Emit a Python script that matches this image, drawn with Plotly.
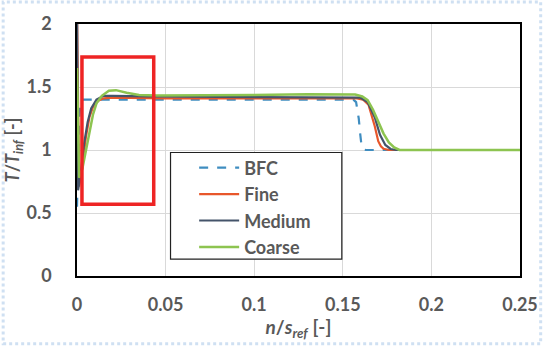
import plotly.graph_objects as go

# ---- data ----
bfc_x = [0, 0.0005, 0.0012, 0.002, 0.003, 0.05, 0.1, 0.15, 0.156, 0.1575, 0.159, 0.1598, 0.1606, 0.1615, 0.163, 0.25]
bfc_y = [0.55, 0.9, 1.25, 1.37, 1.40, 1.40, 1.40, 1.40, 1.40, 1.38, 1.25, 1.13, 1.03, 1.005, 1.0, 1.0]

fine_x = [0, 0.0012, 0.003, 0.005, 0.007, 0.009, 0.012, 0.015, 0.02, 0.05, 0.1, 0.15, 0.158, 0.1615, 0.1645, 0.168, 0.170, 0.1715, 0.173, 0.176, 0.25]
fine_y = [2.1, 0.71, 0.86, 1.1, 1.26, 1.34, 1.39, 1.41, 1.415, 1.41, 1.41, 1.41, 1.41, 1.40, 1.36, 1.19, 1.07, 1.03, 1.01, 1.0, 1.0]

med_x = [0, 0.0006, 0.002, 0.004, 0.006, 0.008, 0.011, 0.015, 0.02, 0.04, 0.1, 0.15, 0.16, 0.164, 0.168, 0.171, 0.174, 0.177, 0.18, 0.25]
med_y = [2.2, 0.68, 0.8, 1.05, 1.22, 1.33, 1.40, 1.43, 1.43, 1.425, 1.42, 1.42, 1.415, 1.38, 1.26, 1.12, 1.04, 1.008, 1.0, 1.0]

coarse_x = [0, 0.0012, 0.003, 0.005, 0.007, 0.009, 0.011, 0.014, 0.018, 0.022, 0.028, 0.035, 0.045, 0.07, 0.1, 0.13, 0.15, 0.157, 0.161, 0.164, 0.167, 0.170, 0.173, 0.176, 0.179, 0.182, 0.25]
coarse_y = [1.65, 0.78, 0.85, 1.0, 1.15, 1.28, 1.37, 1.43, 1.47, 1.475, 1.455, 1.437, 1.432, 1.432, 1.437, 1.443, 1.445, 1.44, 1.425, 1.395, 1.32, 1.22, 1.13, 1.06, 1.02, 1.0, 1.0]

x_ticks = [0, 0.05, 0.1, 0.15, 0.2, 0.25]
x_tick_labels = ["0", "0.05", "0.1", "0.15", "0.2", "0.25"]
y_ticks = [0, 0.5, 1, 1.5, 2]
y_tick_labels = ["0", "0.5", "1", "1.5", "2"]

# highlight box (data coordinates)
box_x = [0.0028, 0.0433]
box_y = [0.57, 1.738]

GRAY = "#595959"
FONT = "Lato"

fig = go.Figure()
series = [
    ("BFC", bfc_x, bfc_y, "#3f8dc0", 2.2, "dash"),
    ("Fine", fine_x, fine_y, "#e8572b", 2.2, "solid"),
    ("Medium", med_x, med_y, "#44546a", 2.2, "solid"),
    ("Coarse", coarse_x, coarse_y, "#8dc450", 2.5, "solid"),
]
for name, xs, ys, col, w, dash in series:
    fig.add_trace(go.Scatter(
        x=xs, y=ys, mode="lines", name=name, legendgroup=name,
        line=dict(color=col, width=w, dash=dash),
    ))

fig.add_shape(type="rect", xref="x", yref="y",
              x0=box_x[0], x1=box_x[1], y0=box_y[0], y1=box_y[1],
              line=dict(color="#ee2424", width=3.5), layer="above")

L, R, T, B = 77, 23, 24, 70
W, H = 550, 347
pw, ph = W - L - R, H - T - B

def px_x(p):
    return (p - L) / pw

def px_y(p):
    return (H - B - p) / ph

# legend frame (white box with dark border)
fig.add_shape(type="rect", xref="paper", yref="paper",
              x0=px_x(172), x1=px_x(346), y0=px_y(260), y1=px_y(153),
              line=dict(color="#222222", width=1.2), fillcolor="white", layer="above")

# outer decorative dashed frame
fig.add_shape(type="rect", xref="paper", yref="paper",
              x0=px_x(2), x1=px_x(W - 2), y0=px_y(H - 2), y1=px_y(2),
              line=dict(color="#cfe0f2", width=3, dash="dot"), layer="below")

axis_common = dict(
    showline=True, linecolor="black", linewidth=1.5, mirror=True,
    showgrid=True, gridcolor="#d9d9d9", gridwidth=1.2,
    zeroline=False, ticks="",
    tickfont=dict(family=FONT, size=18, color=GRAY, weight="bold"),
)

fig.update_layout(
    width=W, height=H,
    margin=dict(l=L, r=R, t=T, b=B),
    paper_bgcolor="white", plot_bgcolor="white",
    font=dict(family=FONT, color=GRAY),
    xaxis=dict(range=[0, 0.25], tickvals=x_ticks, ticktext=x_tick_labels,
               ticklabelstandoff=12,
               title=dict(text="<i>n</i>/<i>s</i><sub><i>ref</i></sub> [-]",
                          font=dict(family=FONT, size=19, color=GRAY, weight="bold"),
                          standoff=6),
               **axis_common),
    yaxis=dict(range=[0, 2], tickvals=y_ticks, ticktext=y_tick_labels,
               ticklabelstandoff=20,
               title=dict(text="<i>T</i>/<i>T</i><sub><i>inf</i></sub> [-]",
                          font=dict(family=FONT, size=18, color=GRAY, weight="bold"),
                          standoff=2),
               **axis_common),
    legend=dict(x=px_x(196), y=px_y(150), xanchor="left", yanchor="top",
                bgcolor="rgba(0,0,0,0)", borderwidth=0,
                font=dict(family=FONT, size=18, color=GRAY, weight="bold"),
                itemwidth=40, tracegroupgap=0, traceorder="grouped"),
)

fig.write_html("out.html")
